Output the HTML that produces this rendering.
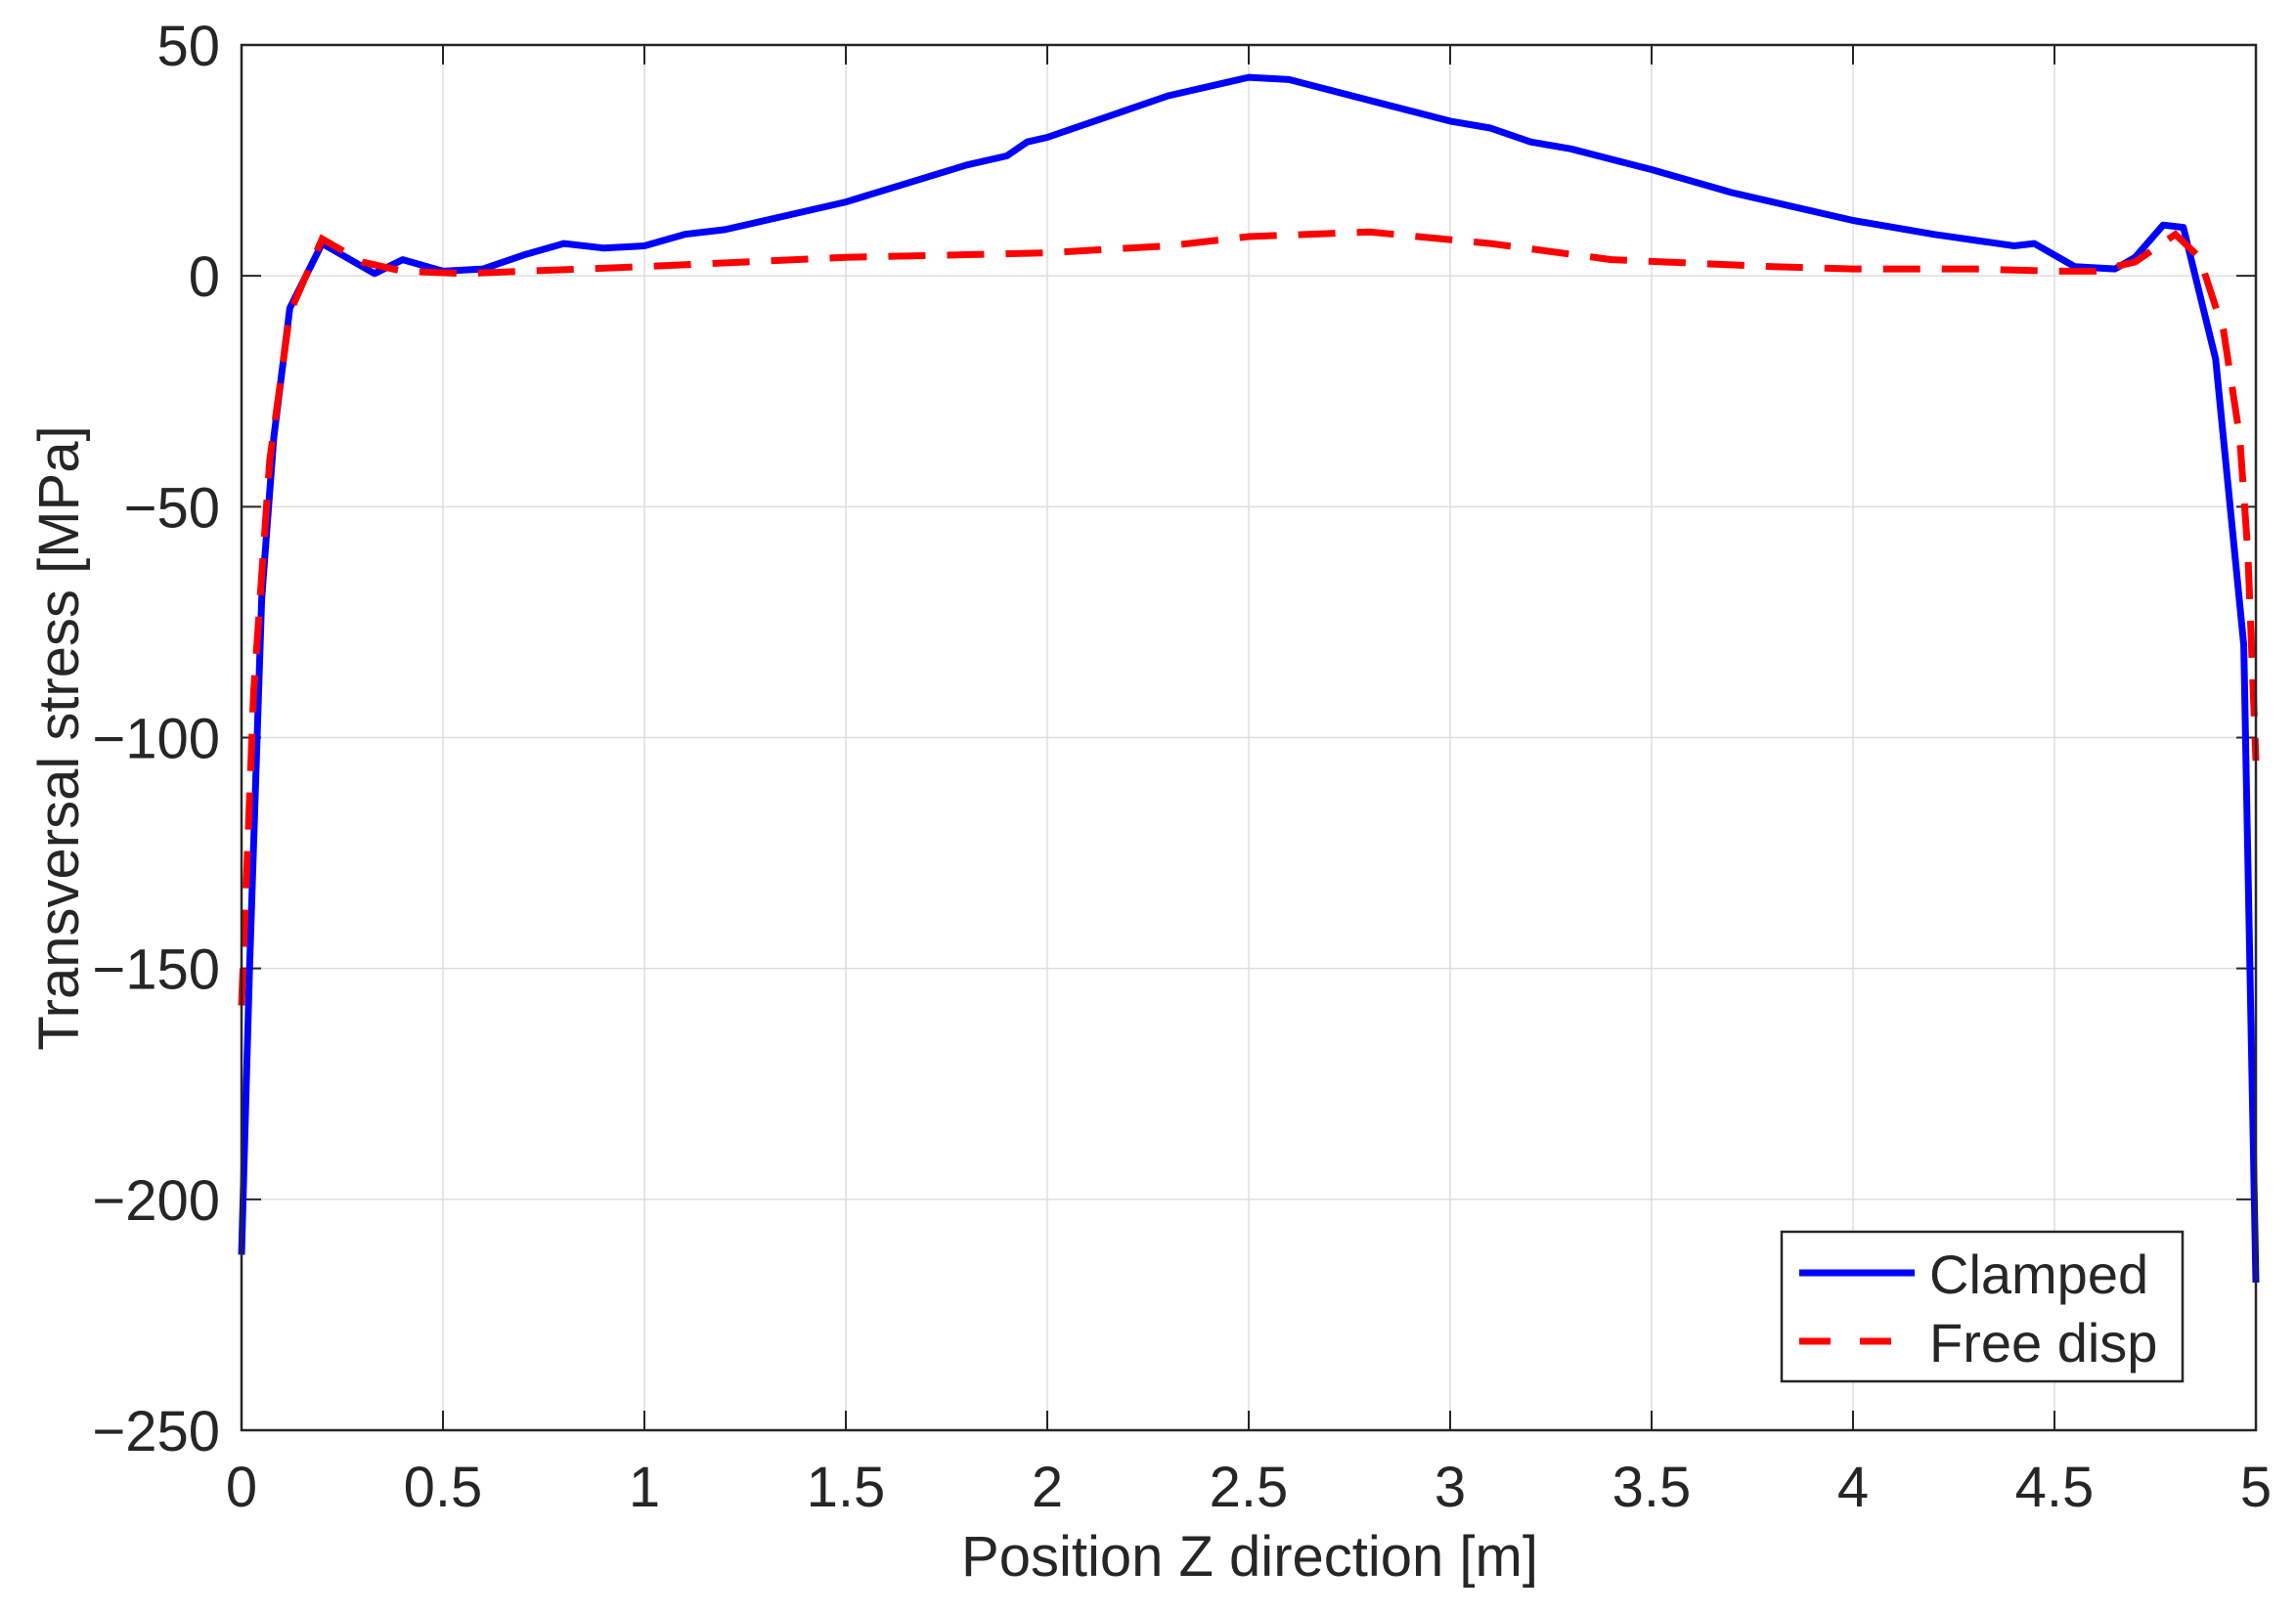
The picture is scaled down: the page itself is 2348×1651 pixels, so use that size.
<!DOCTYPE html>
<html><head><meta charset="utf-8"><style>
html,body{margin:0;padding:0;background:#fff}
svg{display:block}
text{font-family:"Liberation Sans",Arial,sans-serif;fill:#262626}
</style></head><body>
<svg id="s" width="2348" height="1651" viewBox="0 0 2348 1651" xmlns="http://www.w3.org/2000/svg">
<rect x="0" y="0" width="2348" height="1651" fill="#fff"/>
<g id="grid" stroke="#dedede" stroke-width="1.5"></g>
<g id="ticks" stroke="#262626" stroke-width="2"></g>
<g id="labels" font-size="58"></g>
<polyline id="blue" fill="none" stroke="#0000ff" stroke-width="7" stroke-linejoin="round"/>
<polyline id="red" fill="none" stroke="#ff0000" stroke-width="7" stroke-dasharray="38,22"/>
<rect x="247" y="46" width="2060" height="1417" fill="none" stroke="#262626" stroke-width="2.5"/>
<text x="1278" y="1612" font-size="58" text-anchor="middle">Position Z direction [m]</text>
<text transform="translate(80,755) rotate(-90)" font-size="58" text-anchor="middle">Transversal stress [MPa]</text>
<rect x="1822" y="1260" width="410" height="153" fill="#fff" stroke="#262626" stroke-width="2.5"/>
<line x1="1840" y1="1302" x2="1958" y2="1302" stroke="#0000ff" stroke-width="7"/>
<line x1="1840" y1="1372" x2="1958" y2="1372" stroke="#ff0000" stroke-width="7" stroke-dasharray="32,30"/>
<text x="1973" y="1323" font-size="56" fill="#000">Clamped</text>
<text x="1973" y="1393" font-size="56" fill="#000">Free disp</text>
</svg>
<script>
var L=247,R=2307,T=46,B=1463;
function X(v){return L+(R-L)*v/5}
function Y(v){return T+(B-T)*(50-v)/300}
var ns="http://www.w3.org/2000/svg";
function el(p,n,a,t){var e=document.createElementNS(ns,n);for(var k in a)e.setAttribute(k,a[k]);if(t!==undefined)e.textContent=t;document.getElementById(p).appendChild(e);}
for(var i=0;i<=10;i++){var x=X(i*0.5);
 if(i>0&&i<10)el("grid","line",{x1:x,y1:T,x2:x,y2:B});
 el("ticks","line",{x1:x,y1:B,x2:x,y2:B-20});el("ticks","line",{x1:x,y1:T,x2:x,y2:T+20});
 var s=(i*0.5).toString();el("labels","text",{x:x,y:1541,"text-anchor":"middle"},s);}
for(var v=-250;v<=50;v+=50){var y=Y(v);
 if(v>-250&&v<50)el("grid","line",{x1:L,y1:y,x2:R,y2:y});
 el("ticks","line",{x1:L,y1:y,x2:L+20,y2:y});el("ticks","line",{x1:R,y1:y,x2:R-20,y2:y});
 el("labels","text",{x:225,y:y+21,"text-anchor":"end"},(v<0?"\u2212"+(-v):""+v));}
var blue=[[0,-212],[0.02,-150],[0.05,-70],[0.08,-35],[0.12,-7],[0.2,7],[0.33,0.5],[0.4,3.5],[0.5,1],[0.6,1.5],[0.7,4.5],[0.8,7],[0.9,6],[1,6.5],[1.1,9],[1.2,10],[1.5,16],[1.8,24],[1.9,26],[1.95,29],[2.0,30],[2.3,39],[2.5,43],[2.6,42.5],[2.8,38],[3.0,33.5],[3.1,32],[3.2,29],[3.3,27.5],[3.5,23],[3.7,18],[4.0,12],[4.2,9],[4.4,6.5],[4.45,7],[4.55,2],[4.65,1.5],[4.7,4],[4.77,11],[4.82,10.5],[4.9,-18],[4.97,-80],[5.0,-218]];
var red=[[0,-158],[0.03,-90],[0.07,-40],[0.12,-8],[0.2,8],[0.3,3],[0.4,1],[0.55,0.5],[1,2],[1.5,4],[2,5],[2.3,6.5],[2.5,8.5],[2.8,9.5],[3.1,7],[3.4,3.5],[3.8,2],[4,1.5],[4.3,1.5],[4.5,1],[4.6,1],[4.7,3],[4.8,9],[4.86,4],[4.92,-12],[4.96,-35],[4.98,-60],[5,-105]];
function pts(a){return a.map(function(p){return X(p[0]).toFixed(1)+","+Y(p[1]).toFixed(1)}).join(" ")}
document.getElementById("blue").setAttribute("points",pts(blue));
document.getElementById("red").setAttribute("points",pts(red));
</script>
</body></html>
